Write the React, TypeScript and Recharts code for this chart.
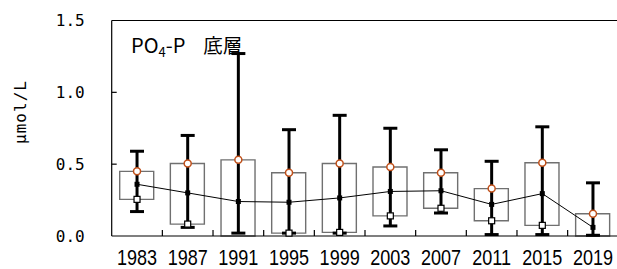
import React from 'react';
import { ComposedChart, Bar, Line, XAxis, YAxis, ErrorBar, ReferenceLine } from 'recharts';

const years = ['1983', '1987', '1991', '1995', '1999', '2003', '2007', '2011', '2015', '2019'];
const maxVals = [0.59, 0.70, 1.27, 0.74, 0.84, 0.75, 0.60, 0.52, 0.76, 0.37];
const minVals = [0.17, 0.06, 0.02, 0.02, 0.02, 0.07, 0.16, 0.01, 0.01, 0.005];
const upperVals = [0.45, 0.505, 0.53, 0.44, 0.505, 0.48, 0.44, 0.33, 0.51, 0.155];
const centerVals = [0.36, 0.30, 0.24, 0.235, 0.265, 0.31, 0.315, 0.22, 0.295, 0.06];
const lowerVals: (number | null)[] = [0.255, 0.083, null, 0.02, 0.025, 0.14, 0.193, 0.106, 0.074, null];
const yTicks = [0, 0.5, 1.0, 1.5];

const data = years.map((y, i) => ({
  year: y,
  box: [lowerVals[i] ?? 0, upperVals[i]],
  center: centerVals[i],
  upper: upperVals[i],
  lower: lowerVals[i],
  err: [centerVals[i] - minVals[i], maxVals[i] - centerVals[i]],
}));

const YTick = (props: any) => {
  const { x, y, payload } = props;
  const v = payload.value as number;
  return (
    <g>
      <text x={x - 27} y={y} dy="0.36em" textAnchor="end" fontFamily="'DejaVu Sans Mono', monospace" fontSize={16} fill="#000">
        {v.toFixed(1)}
      </text>
      {v > 0 && v < 1.5 && <line x1={x} x2={x + 5} y1={y} y2={y} stroke="#000" strokeWidth={1.2} />}
    </g>
  );
};

const XTick = (props: any) => {
  const { x, y, payload, index } = props;
  const half = typeof payload.offset === 'number' && payload.offset > 5 ? payload.offset : (props.width / years.length) / 2;
  return (
    <g>
      <text
        x={0}
        y={0}
        transform={`translate(${x},${y + 29}) scale(0.82,1)`}
        textAnchor="middle"
        fontFamily="'Liberation Sans', sans-serif"
        fontSize={22}
        fill="#000"
      >
        {payload.value}
      </text>
      {index < years.length - 1 && (
        <line x1={x + half} x2={x + half} y1={y} y2={y - 6} stroke="#000" strokeWidth={1.2} />
      )}
    </g>
  );
};

const CenterDot = (props: any) => {
  const { cx, cy } = props;
  if (cx == null || cy == null || isNaN(cy)) return null;
  return <rect x={cx - 2.5} y={cy - 2.5} width={5} height={5} fill="#000" />;
};

const UpperDot = (props: any) => {
  const { cx, cy } = props;
  if (cx == null || cy == null || isNaN(cy)) return null;
  return <circle cx={cx} cy={cy} r={3.5} fill="#fff" stroke="#c0501a" strokeWidth={1.5} />;
};

const LowerDot = (props: any) => {
  const { cx, cy, payload } = props;
  if (cx == null || cy == null || isNaN(cy) || payload?.lower == null) return null;
  return <rect x={cx - 3} y={cy - 3} width={6} height={6} fill="#fff" stroke="#000" strokeWidth={1.2} />;
};

export default function App() {
  return (
    <div style={{ position: 'absolute', left: 0, top: 0, width: 617, height: 269, overflow: 'hidden', background: '#fff' }}>
      <ComposedChart
        width={630}
        height={269}
        data={data}
        margin={{ top: 20.5, right: 11.7, left: 0, bottom: 0 }}
        barCategoryGap={0}
      >
        <XAxis
          dataKey="year"
          height={33}
          axisLine={{ stroke: '#000', strokeWidth: 1.2 }}
          tickLine={false}
          tickSize={0}
          tickMargin={0}
          tick={<XTick />}
          interval={0}
        />
        <YAxis
          width={111.7}
          domain={[0, 1.5]}
          ticks={yTicks}
          axisLine={{ stroke: '#000', strokeWidth: 1.2 }}
          tickLine={false}
          tickSize={0}
          tickMargin={0}
          tick={<YTick />}
          interval={0}
        />
        <ReferenceLine y={1.5} stroke="#000" strokeWidth={1.2} />
        <Bar dataKey="box" barSize={34} fill="#fff" stroke="#707070" strokeWidth={1.4} isAnimationActive={false} />
        <Line dataKey="center" stroke="#000" strokeWidth={1} dot={<CenterDot />} activeDot={false} isAnimationActive={false}>
          <ErrorBar dataKey="err" width={7} strokeWidth={3} stroke="#000" direction="y" />
        </Line>
        <Line dataKey="lower" stroke="none" dot={<LowerDot />} activeDot={false} isAnimationActive={false} />
        <Line dataKey="upper" stroke="none" dot={<UpperDot />} activeDot={false} isAnimationActive={false} />
      </ComposedChart>
      <svg width={617} height={269} style={{ position: 'absolute', left: 0, top: 0, pointerEvents: 'none' }}>
        <text x={131} y={53.3} fontFamily="'Noto Sans CJK JP', sans-serif" fontSize={20} fill="#000">
          PO
          <tspan fontSize={13} dy={4}>4</tspan>
          <tspan dy={-4}>-P</tspan>
          <tspan dx={18} fontSize={19.5}>底層</tspan>
        </text>
        <text
          x={0}
          y={0}
          transform="translate(20.5,112) rotate(-90)"
          textAnchor="middle"
          dy="0.36em"
          fontFamily="'DejaVu Sans Mono', monospace"
          fontSize={16}
          letterSpacing={1}
          fill="#000"
        >
          μmol/L
        </text>
      </svg>
    </div>
  );
}
